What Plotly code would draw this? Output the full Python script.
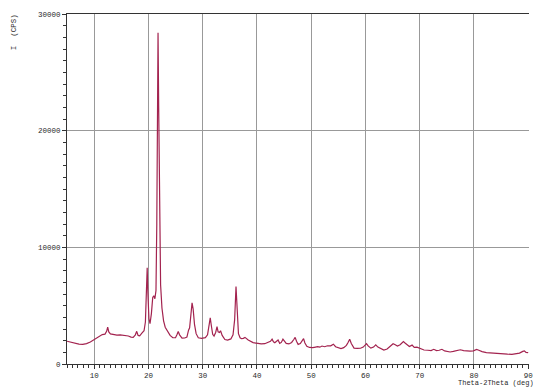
import plotly.graph_objects as go

# 2-theta (deg) and intensity (CPS)
two_theta = [
    5.0, 5.8, 6.5, 7.2, 7.9, 8.6, 9.3, 10.0, 10.6, 11.0, 11.5, 12.0, 12.3, 12.5, 12.7,
    13.0, 13.6, 14.2, 14.8, 15.3, 15.8, 16.3, 16.8, 17.2, 17.6, 17.85, 18.1, 18.4, 18.8,
    19.2, 19.45, 19.65, 19.78, 19.9, 20.1, 20.3, 20.55, 20.8, 21.0, 21.2, 21.4, 21.55,
    21.7, 21.78, 21.9, 22.05, 22.25, 22.5, 22.8, 23.1, 23.5, 24.0, 24.5, 25.0, 25.3,
    25.5, 25.75, 26.2, 26.7, 27.1, 27.4, 27.6, 27.85, 28.05, 28.25, 28.5, 28.8, 29.2,
    29.8, 30.5, 30.9, 31.2, 31.4, 31.6, 31.85, 32.1, 32.4, 32.65, 32.85, 33.1, 33.3,
    33.6, 34.1, 34.6, 35.2, 35.6, 35.9, 36.15, 36.35, 36.6, 36.9, 37.15, 37.5, 37.8,
    38.4, 39.3, 40.2, 40.8, 41.45, 42.05, 42.5, 42.8, 43.05, 43.3, 43.6, 43.9, 44.2,
    44.5, 44.8, 45.1, 45.4, 45.9, 46.4, 46.8, 47.05, 47.3, 47.6, 48.0, 48.4, 48.6,
    48.85, 49.2, 49.7, 50.3, 50.8, 51.2, 51.6, 52.0, 52.5, 53.0, 53.6, 54.1, 54.5,
    55.0, 55.5, 56.0, 56.5, 56.8, 57.1, 57.4, 57.9, 58.5, 59.1, 59.6, 60.0, 60.2,
    60.5, 61.0, 61.5, 61.9, 62.3, 62.9, 63.4, 64.0, 64.6, 65.1, 65.5, 65.9, 66.4,
    67.0, 67.3, 67.7, 68.1, 68.6, 69.0, 69.5, 69.8, 70.3, 70.8, 71.5, 72.1, 72.6,
    73.1, 73.6, 74.1, 74.6, 75.1, 75.6, 76.2, 76.8, 77.5, 78.1, 78.7, 79.3, 79.9,
    80.5, 80.9, 81.5, 82.3, 83.0, 83.8, 84.6, 85.4, 86.2, 87.0, 87.8, 88.4, 89.0,
    89.3, 89.6, 90.0,
]
intensity = [
    1950, 1850, 1760, 1700, 1690, 1750, 1880, 2100, 2280, 2400, 2520, 2560, 2800, 3150, 2750,
    2580, 2520, 2480, 2500, 2480, 2420, 2400, 2300, 2280, 2500, 2800, 2450, 2420, 2650,
    2850, 3600, 6500, 8250, 6200, 3900, 3450, 4300, 5700, 5850, 5600, 6300, 12000,
    24000, 28400, 22000, 12000, 6800, 4800, 3700, 3150, 2800, 2450, 2250, 2250, 2550,
    2780, 2500, 2220, 2230, 2300, 2900, 3100, 4300, 5250, 4700, 3400, 2600, 2250,
    2200, 2260, 2500, 3400, 3950, 3300, 2550, 2400, 2700, 3200, 2750, 2700, 2850,
    2450, 2100, 2050, 2150, 2500, 3800, 6650, 4500, 2600, 2250, 2170, 2200, 2280,
    2060, 1830, 1770, 1720, 1740, 1830, 1950, 2130, 1900, 1820, 1950, 2060, 1770,
    1850, 2130, 1900, 1770, 1720, 1850, 2100, 2280, 1950, 1680, 1750, 2050, 2180,
    1800, 1520, 1420, 1400, 1450, 1490, 1440, 1540, 1480, 1560, 1560, 1700, 1480,
    1400, 1320, 1400, 1600, 1850, 2120, 1750, 1360, 1340, 1350, 1450, 1650, 1750,
    1550, 1360, 1450, 1640, 1450, 1300, 1200, 1280, 1500, 1740, 1650, 1540, 1650,
    1920, 1800, 1620, 1500, 1620, 1420, 1450, 1390, 1280, 1200, 1180, 1150, 1260,
    1150, 1180, 1260, 1120, 1060, 1030, 1080, 1150, 1220, 1150, 1110, 1100, 1130,
    1250, 1180, 1060, 980, 950, 920, 870, 830, 840, 830, 850, 930, 1080,
    1130, 1000, 970,
]

x_ticks = [10, 20, 30, 40, 50, 60, 70, 80, 90]
y_ticks = [0, 10000, 20000, 30000]

FONT = "Liberation Mono, DejaVu Sans Mono, monospace"
TXT = "#2a2a2a"

fig = go.Figure()
fig.add_trace(go.Scatter(
    x=two_theta, y=intensity, mode="lines",
    line=dict(color="#a3234f", width=1.2),
    showlegend=False, hoverinfo="skip",
))

fig.update_layout(
    width=533, height=389,
    margin=dict(l=67, r=0, t=14, b=25),
    paper_bgcolor="white", plot_bgcolor="white",
    font=dict(family=FONT, size=7, color=TXT),
    xaxis=dict(
        range=[5, 90.15], tickvals=x_ticks, ticktext=[str(v) for v in x_ticks],
        showgrid=True, gridcolor="#999999", gridwidth=1,
        showline=True, linecolor="#333333", linewidth=1, mirror=True,
        ticks="outside", ticklen=4, tickcolor="#333333",
        minor=dict(dtick=1, tick0=0, ticks="outside", ticklen=3, tickcolor="#333333", showgrid=False),
        zeroline=False, ticklabeloverflow="allow",
        tickfont=dict(family=FONT, size=7.5, color=TXT),
    ),
    yaxis=dict(
        range=[0, 30000], tickvals=y_ticks, ticktext=[str(v) for v in y_ticks],
        showgrid=True, gridcolor="#999999", gridwidth=1,
        showline=True, linecolor="#333333", linewidth=1, mirror=False,
        ticks="outside", ticklen=4, tickcolor="#333333",
        minor=dict(dtick=1000, tick0=0, ticks="outside", ticklen=3, tickcolor="#333333", showgrid=False),
        zeroline=False, ticklabeloverflow="allow",
        tickfont=dict(family=FONT, size=7.5, color=TXT),
    ),
    annotations=[
        dict(text="Theta-2Theta (deg)", xref="paper", yref="paper",
             x=0.843, y=-0.054, xanchor="left", yanchor="middle",
             showarrow=False, font=dict(family=FONT, size=7, color=TXT)),
        dict(text="I  (CPS)", xref="paper", yref="paper",
             x=-0.116, y=0.949, xanchor="center", yanchor="middle", textangle=-90,
             showarrow=False, font=dict(family=FONT, size=7.5, color=TXT)),
    ],
)

fig.write_html(
    "out.html",
    config={"displayModeBar": False},
    post_script="document.body.style.margin='0';document.body.style.overflow='hidden';",
)
